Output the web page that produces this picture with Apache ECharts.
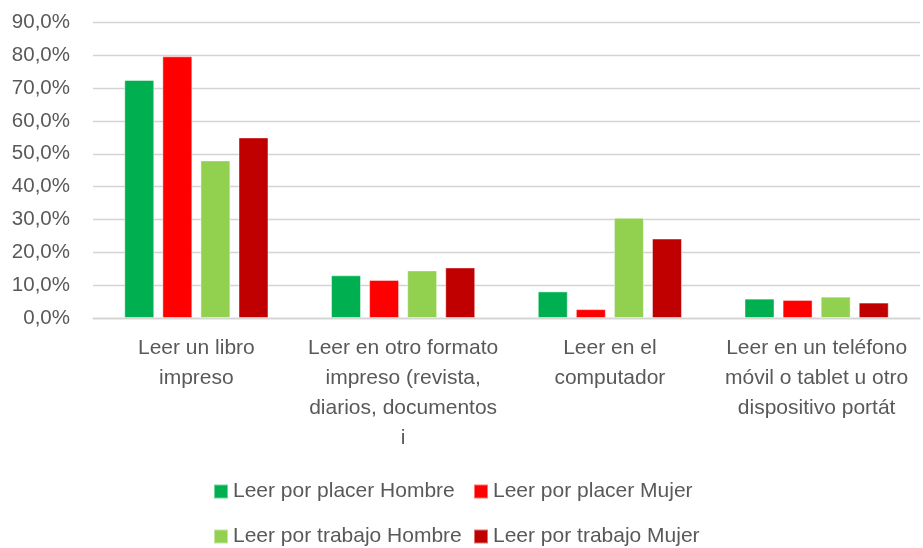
<!DOCTYPE html>
<html>
<head>
<meta charset="utf-8">
<script src="https://cdn.jsdelivr.net/npm/echarts@6/dist/echarts.min.js"></script>
<style>
  html, body { margin: 0; padding: 0; background: #fff; }
  #chart { width: 923px; height: 548px; }
</style>
</head>
<body>
<div id="chart"></div>
<script>
// categorías (con saltos de línea como en el original)
var categorias = [
    'Leer un libro\nimpreso',
    'Leer en otro formato\nimpreso (revista,\ndiarios, documentos\ni',
    'Leer en el\ncomputador',
    'Leer en un teléfono\nmóvil o tablet u otro\ndispositivo portát'
];

var nombresSeries = [
    'Leer por placer Hombre',
    'Leer por placer Mujer',
    'Leer por trabajo Hombre',
    'Leer por trabajo Mujer'
];

// valores en %
var placerHombre  = [72.5, 13.0, 8.1, 5.9];
var placerMujer   = [79.7, 11.6, 2.7, 5.5];
var trabajoHombre = [48.0, 14.5, 30.5, 6.5];
var trabajoMujer  = [55.0, 15.4, 24.2, 4.7];

var colores = ['#00B050', '#FF0000', '#92D050', '#C00000'];
var valores = [placerHombre, placerMujer, trabajoHombre, trabajoMujer];

var fuente = 'Liberation Sans';
var gris = '#595959';

var myChart = echarts.init(document.getElementById('chart'));

// leyenda: una por elemento para alinear columnas como en Excel
var posLeyenda = [[213, 481], [473, 481], [213, 526], [473, 526]];
var leyendas = nombresSeries.map(function (n, i) {
    return {
        data: [n],
        left: posLeyenda[i][0],
        top: posLeyenda[i][1],
        padding: 0,
        icon: 'rect',
        itemWidth: 14,
        itemHeight: 14,
        textStyle: { fontFamily: fuente, fontSize: 21, color: gris }
    };
});

var series = nombresSeries.map(function (n, i) {
    return {
        name: n,
        type: 'bar',
        data: valores[i],
        barWidth: '14.5%',
        barGap: '27%',
        itemStyle: {
            color: colores[i],
            borderColor: 'rgba(255,255,255,0.45)',
            borderWidth: 1
        }
    };
});

myChart.setOption({
    animation: false,
    color: colores,
    grid: {
        left: 93,
        right: 3,
        top: 22.5,
        bottom: 230,
        containLabel: false
    },
    legend: leyendas,
    xAxis: {
        type: 'category',
        data: categorias,
        axisLine: { lineStyle: { color: '#D4D4D4', width: 1.3 } },
        axisTick: { show: false },
        axisLabel: {
            interval: 0,
            fontFamily: fuente,
            fontSize: 21,
            color: gris,
            lineHeight: 30,
            margin: 15
        }
    },
    yAxis: {
        type: 'value',
        min: 0,
        max: 90,
        interval: 10,
        axisLine: { show: false },
        axisTick: { show: false },
        splitLine: { lineStyle: { color: '#D4D4D4', width: 1.3 } },
        axisLabel: {
            fontFamily: fuente,
            fontSize: 20.5,
            color: gris,
            margin: 23,
            formatter: function (v) {
                return v.toFixed(1).replace('.', ',') + '%';
            }
        }
    },
    series: series
});
</script>
</body>
</html>
